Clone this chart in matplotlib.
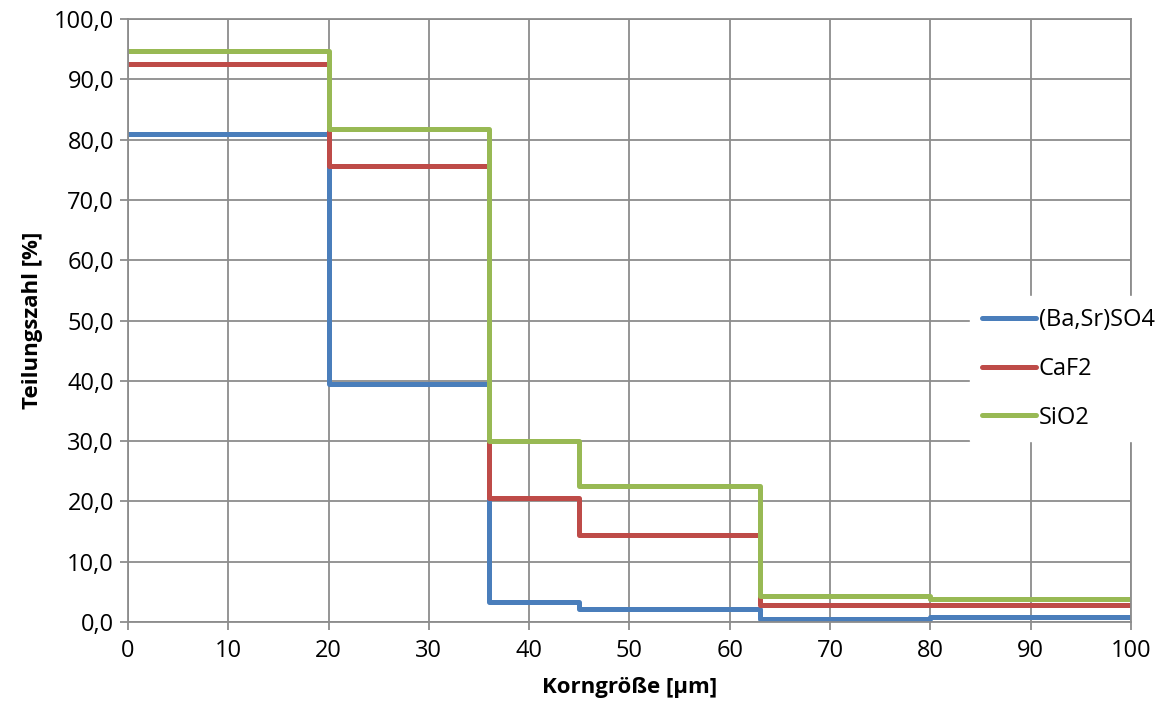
import matplotlib.pyplot as plt
from matplotlib.ticker import FuncFormatter

# grain size class limits [um]
edges = [0, 20, 36, 45, 63, 80, 100]

# values per class (last value repeated to close the step)
baso4 = [80.9, 39.4, 3.4, 2.2, 0.55, 0.9]
caf2 = [92.5, 75.6, 20.6, 14.4, 2.8, 2.8]
sio2 = [94.7, 81.7, 30.0, 22.6, 4.4, 3.9]

series = [("(Ba,Sr)SO4", baso4, "#4A7EBB"),
          ("CaF2", caf2, "#BE4B48"),
          ("SiO2", sio2, "#98B954")]

plt.rcParams['font.family'] = ['Open Sans', 'DejaVu Sans']
fs = 17

fig = plt.figure(figsize=(11.61, 7.15), dpi=100)
ax = fig.add_axes([0.1102, 0.130, 0.8638, 0.8434])

for name, vals, col in series:
    ax.step(edges, vals + vals[-1:], where='post', color=col,
            linewidth=3.6, label=name, solid_joinstyle='round')

ax.set_xlim(0, 100)
ax.set_ylim(0, 100)
ax.set_xticks(range(0, 101, 10))
ax.set_yticks(range(0, 101, 10))
ax.yaxis.set_major_formatter(FuncFormatter(lambda v, p: f"{v:.1f}".replace('.', ',')))
ax.grid(True, color="#8c8c8c", linewidth=1.3)
ax.set_axisbelow(True)
for s in ax.spines.values():
    s.set_color("#8c8c8c")
    s.set_linewidth(1.3)
ax.tick_params(axis='both', colors="#8c8c8c", labelcolor='black',
               labelsize=fs, length=6, width=1.3)
ax.tick_params(axis='x', pad=6)
ax.tick_params(axis='y', pad=4)

ax.set_xlabel("Korngröße [µm]", fontsize=fs - 1, fontweight='bold', labelpad=10)
ax.set_ylabel("Teilungszahl [%]", fontsize=fs - 1, fontweight='bold', labelpad=8)

leg = ax.legend(loc='center left', bbox_to_anchor=(0.84, 0.42), frameon=True,
                fontsize=fs, handlelength=2.3, handletextpad=0.1,
                labelspacing=1.05, borderaxespad=0, borderpad=0.5, fancybox=False)
leg.get_frame().set_edgecolor('white')
leg.get_frame().set_facecolor('white')
leg.get_frame().set_alpha(1)
for h in leg.get_lines():
    h.set_solid_capstyle('round')

fig.savefig("out.png", dpi=100)
